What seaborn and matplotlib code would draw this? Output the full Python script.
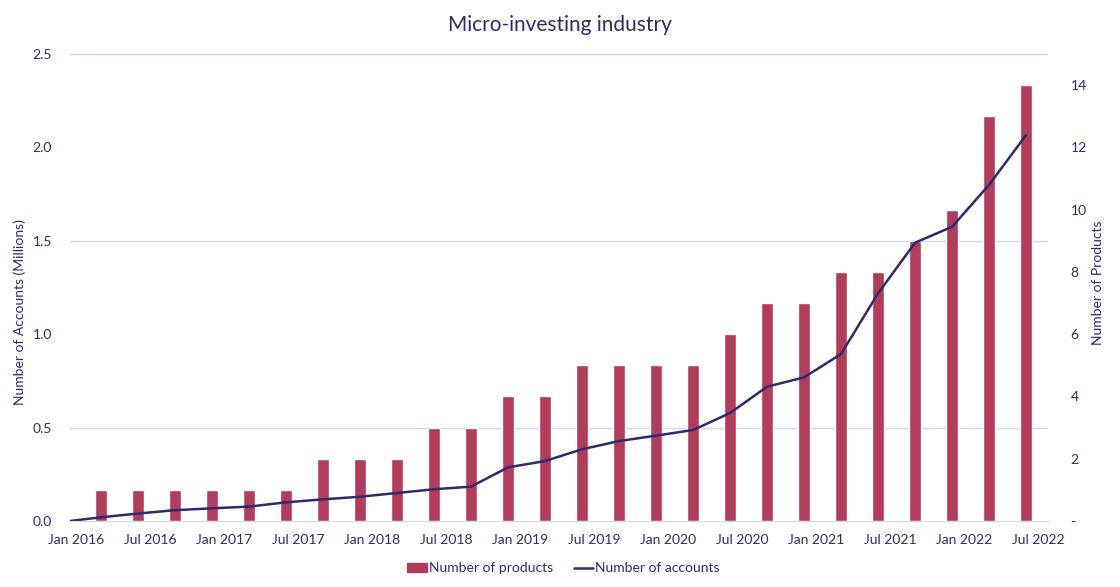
import numpy as np
import pandas as pd
import matplotlib
matplotlib.use("Agg")
import matplotlib.pyplot as plt
import seaborn as sns
from matplotlib.ticker import MultipleLocator, FuncFormatter, FixedLocator
from matplotlib.patches import Patch
from matplotlib.lines import Line2D

# quarter-end readings, Mar 2016 ... Jun 2022
quarters = pd.date_range("2016-03-01", "2022-06-01", freq="3MS")
products = [1, 1, 1, 1, 1, 1, 2, 2, 2, 3, 3, 4, 4, 5, 5, 5, 5, 6, 7, 7,
            8, 8, 9, 10, 13, 14]
# accounts (millions): opening value at Jan 2016, then each quarter end
accounts = [0, 0.02, 0.04, 0.058, 0.068, 0.077, 0.10, 0.116, 0.13, 0.15, 0.17,
            0.184, 0.287, 0.321, 0.384, 0.428, 0.457, 0.487, 0.578, 0.719,
            0.769, 0.894, 1.219, 1.49, 1.575, 1.80, 2.066]
tick_labels = ["Jan 2016", "Jul 2016", "Jan 2017", "Jul 2017", "Jan 2018",
               "Jul 2018", "Jan 2019", "Jul 2019", "Jan 2020", "Jul 2020",
               "Jan 2021", "Jul 2021", "Jan 2022", "Jul 2022"]

NAVY = "#2e2a6b"
BAR = "#b33c5c"
GRID = "#d6d4e6"

# months since Jan 2016, placed mid-month like a date axis
prod_x = [(d.year - 2016) * 12 + d.month - 1 + 0.5 for d in quarters]
acc_x = [0.0] + prod_x

sns.set_style("white")
plt.rcParams["font.family"] = ["Lato", "DejaVu Sans"]

acc_df = pd.DataFrame({"month": acc_x, "accounts": accounts})
prod_df = pd.DataFrame({"month": prod_x, "products": products})

fig = plt.figure(figsize=(11.2, 5.87), dpi=100)
ax = fig.add_axes([0.0625, 0.1124, 0.8735, 0.7956])
ax2 = ax.twinx()

sns.barplot(data=prod_df, x="month", y="products", native_scale=True, width=0.33,
            color=BAR, saturation=1, ax=ax2)
sns.lineplot(data=acc_df, x="month", y="accounts", color=NAVY, linewidth=1.8, ax=ax)

ax.set_zorder(ax2.get_zorder() + 1)
ax.patch.set_visible(False)

ax.set_xlim(0, 79.3)
ax.set_ylim(0, 2.5)
ax2.set_ylim(0, 15)

ax.yaxis.set_major_locator(MultipleLocator(0.5))
ax.yaxis.set_major_formatter(FuncFormatter(lambda v, p: f"{v:.1f}"))
ax2.yaxis.set_major_locator(MultipleLocator(2))
ax2.yaxis.set_major_formatter(FuncFormatter(lambda v, p: "-" if v == 0 else f"{v:g}"))
ax2.yaxis.set_minor_locator(MultipleLocator(3))
ax2.grid(which="minor", axis="y", color=GRID, linewidth=1)
ax2.set_axisbelow(True)
ax2.tick_params(which="minor", length=0)

# tick marks at the start of each half-year, labels centred on the month
ax.xaxis.set_major_locator(MultipleLocator(6))
ax.xaxis.set_major_formatter(FuncFormatter(lambda v, p: ""))
ax.xaxis.set_minor_locator(FixedLocator([6 * i + 0.5 for i in range(len(tick_labels))]))
ax.xaxis.set_minor_formatter(FuncFormatter(lambda v, p: tick_labels[int(v // 6)]))
ax.tick_params(axis="x", which="major", length=5, color="#d9d9d9")
ax.tick_params(axis="x", which="minor", length=0, colors=NAVY, labelsize=10, pad=9)
ax.tick_params(axis="y", length=0, colors=NAVY, labelsize=10, pad=13)
ax2.tick_params(axis="y", length=0, colors=NAVY, labelsize=10, pad=16)

for a in (ax, ax2):
    for s in ("top", "left", "right"):
        a.spines[s].set_visible(False)
    a.spines["bottom"].set_color("#d9d9d9")
ax2.spines["bottom"].set_visible(False)

ax.set_xlabel("")
ax.set_ylabel("Number of Accounts (Millions)", color=NAVY, fontsize=10)
ax.yaxis.set_label_coords(-0.045, 0.447)
ax2.set_xlabel("")
ax2.set_ylabel("Number of Products", color=NAVY, fontsize=10)
ax2.yaxis.set_label_coords(1.045, 0.51)

fig.suptitle("Micro-investing industry", color=NAVY, fontsize=15, y=0.975)

handles = [Patch(facecolor=BAR, edgecolor=BAR), Line2D([0], [0], color=NAVY, linewidth=1.8)]
fig.legend(handles, ["Number of products", "Number of accounts"], loc="lower center",
           bbox_to_anchor=(0.503, 0.0), ncol=2, frameon=False, fontsize=10,
           handlelength=1.4, handleheight=0.6, handletextpad=0.15,
           columnspacing=1.5, labelcolor=NAVY)

fig.savefig("out.png", dpi=100)
